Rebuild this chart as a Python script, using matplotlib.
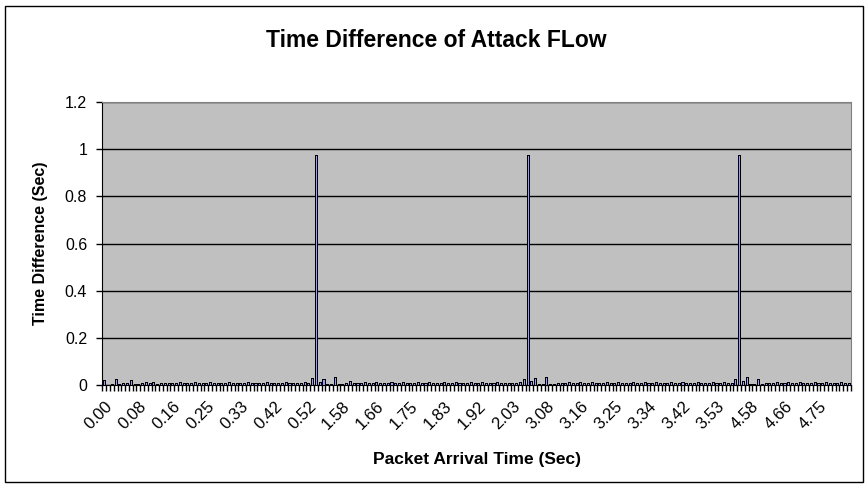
import numpy as np
import matplotlib
matplotlib.use("Agg")
import matplotlib.pyplot as plt
from matplotlib.patches import Rectangle

plt.rcParams['font.family'] = ['Liberation Sans', 'DejaVu Sans']

# time difference (sec) per packet
time_diff = [
    0.022, 0.0, 0.004, 0.026, 0.006, 0.008, 0.008, 0.020, 0.005, 0.006, 0.008, 0.012, 0.008, 0.012, 0.006, 0.010, 0.008, 0.010,
    0.008, 0.010, 0.012, 0.008, 0.010, 0.008, 0.012, 0.008, 0.010, 0.008, 0.012, 0.008, 0.010, 0.008, 0.010, 0.012, 0.008, 0.010,
    0.008, 0.010, 0.012, 0.008, 0.010, 0.008, 0.010, 0.012, 0.008, 0.010, 0.008, 0.010, 0.012, 0.008, 0.010, 0.008, 0.010, 0.012,
    0.010, 0.028, 0.975, 0.012, 0.026, 0.006, 0.004, 0.035, 0.006, 0.004, 0.008, 0.015, 0.008, 0.010, 0.008, 0.012, 0.008, 0.010,
    0.012, 0.008, 0.010, 0.008, 0.012, 0.010, 0.008, 0.012, 0.008, 0.010, 0.008, 0.012, 0.010, 0.008, 0.012, 0.008, 0.010, 0.008,
    0.012, 0.008, 0.010, 0.012, 0.008, 0.010, 0.008, 0.012, 0.008, 0.010, 0.012, 0.008, 0.010, 0.008, 0.012, 0.008, 0.010, 0.008,
    0.010, 0.008, 0.012, 0.026, 0.975, 0.015, 0.030, 0.004, 0.006, 0.035, 0.004, 0.005, 0.008, 0.010, 0.008, 0.012, 0.008, 0.010,
    0.012, 0.008, 0.010, 0.012, 0.008, 0.010, 0.008, 0.012, 0.010, 0.008, 0.012, 0.008, 0.010, 0.008, 0.012, 0.008, 0.010, 0.012,
    0.008, 0.010, 0.012, 0.008, 0.010, 0.008, 0.012, 0.008, 0.010, 0.012, 0.008, 0.010, 0.008, 0.012, 0.008, 0.010, 0.008, 0.012,
    0.008, 0.010, 0.012, 0.008, 0.010, 0.026, 0.975, 0.015, 0.035, 0.004, 0.006, 0.026, 0.004, 0.008, 0.010, 0.008, 0.012, 0.010,
    0.008, 0.012, 0.008, 0.010, 0.012, 0.008, 0.010, 0.008, 0.012, 0.010, 0.008, 0.012, 0.008, 0.010, 0.008, 0.012, 0.010, 0.008,
]

# arrival time labels shown on the x axis (every 9th packet)
tick_labels = ["0.00", "0.08", "0.16", "0.25", "0.33", "0.42", "0.52", "1.58", "1.66", "1.75", "1.83",
               "1.92", "2.03", "3.08", "3.16", "3.25", "3.34", "3.42", "3.53", "4.58", "4.66", "4.75"]
label_step = 9

n = len(time_diff)
x = np.arange(n)

fig = plt.figure(figsize=(8.68, 4.88), dpi=100)
ax = fig.add_axes([0.118, 0.211, 0.862, 0.580])

ax.set_facecolor('#C0C0C0')
ax.bar(x, time_diff, width=0.55, color='#9999FF', edgecolor='black', linewidth=0.7,
       antialiased=False, zorder=3)

ax.set_xlim(-0.5, n - 0.5)
ax.set_ylim(0, 1.2)
ax.set_yticks([0, 0.2, 0.4, 0.6, 0.8, 1, 1.2])
ax.set_yticklabels(['0', '0.2', '0.4', '0.6', '0.8', '1', '1.2'], fontsize=11.5)
ax.yaxis.grid(True, color='black', linewidth=1, zorder=1)
ax.set_axisbelow(True)

ax.set_xticks(x[::label_step])
ax.set_xticklabels(tick_labels, rotation=45, ha='right', rotation_mode='anchor', fontsize=12)
ax.set_xticks(np.arange(n + 1) - 0.5, minor=True)
ax.tick_params(axis='x', which='major', length=0, pad=10)
ax.tick_params(axis='x', which='minor', length=4, width=1, color='black')
ax.tick_params(axis='y', length=4, width=1, pad=7)

for side in ['top', 'right']:
    ax.spines[side].set_color('#808080')
ax.spines['left'].set_color('black')
ax.spines['bottom'].set_color('black')

ax.set_ylabel('Time Difference (Sec)', fontsize=11.5, fontweight='bold', labelpad=12)
ax.set_xlabel('Packet Arrival Time (Sec)', fontsize=12.5, fontweight='bold', labelpad=14)
fig.text(0.503, 0.918, 'Time Difference of Attack FLow', ha='center', va='center',
         fontsize=16.5, fontweight='bold')

fig.patches.append(Rectangle((0.006, 0.012), 0.988, 0.976, transform=fig.transFigure,
                             fill=False, edgecolor='black', linewidth=1))

fig.savefig('out.png', dpi=100)
